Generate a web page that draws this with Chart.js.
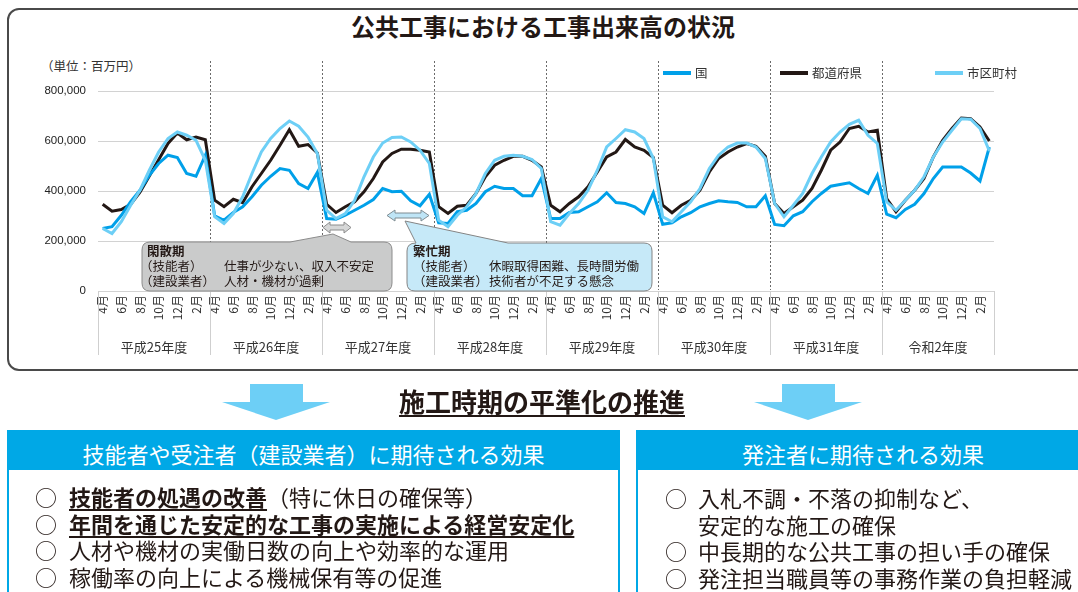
<!DOCTYPE html>
<html lang="ja">
<head>
<meta charset="utf-8" />
<title>公共工事における工事出来高の状況</title>
<script src="https://cdn.jsdelivr.net/npm/chart.js@4.4.1/dist/chart.umd.min.js"></script>
<style>
	body {
		margin: 0;
		width: 1078px;
		height: 592px;
		overflow: hidden;
		position: relative;
		background: #fff;
		color: #231815;
		font-family: "Noto Sans CJK JP", "Noto Sans", sans-serif;
	}
	.abs { position: absolute; }
	/* rounded frame round the chart */
	#frame {
		left: 7px; top: 8px; width: 1100px; height: 363px;
		box-sizing: border-box;
		border: 2px solid #4a4a4a;
		border-radius: 12px;
	}
	#title {
		left: 0; top: 11px; width: 1086px;
		text-align: center;
		font-size: 24px; font-weight: bold; line-height: 30px;
	}
	#unit { left: 41px; top: 56px; font-size: 12.5px; line-height: 20px; color: #333; }
	#chart { left: 0; top: 0; }
	#notes { left: 0; top: 0; }
	#subtitle {
		left: 0; top: 384px; width: 1084px;
		text-align: center;
		font-size: 26px; font-weight: bold; line-height: 34px;
	}
	#subtitle span {
		text-decoration: underline;
		text-decoration-thickness: 2px;
		text-underline-offset: 3px;
	}
	.panel {
		top: 430px; height: 200px;
		box-sizing: border-box;
		border: 2px solid #00a8e6;
	}
	.panel .head {
		background: #00a8e6;
		color: #fff;
		height: 38px;
		line-height: 38px;
		padding-top: 2px;
		box-sizing: border-box;
		text-align: center;
		font-size: 22px;
	}
	#left { left: 7px; width: 613px; }
	#right { left: 636px; width: 454px; }
	.rows { font-size: 22px; line-height: 26.7px; white-space: nowrap; }
	.rows .c { display: inline-block; }
	.rows b { text-decoration: underline; text-decoration-thickness: 2px; text-underline-offset: 3px; }
	#rowsL { left: 35px; top: 483px; }
	#rowsL .c { width: 34px; }
	#rowsR { left: 665px; top: 484px; }
	#rowsR .c { width: 33px; }
</style>
</head>
<body>
<div id="frame" class="abs"></div>
<div id="title" class="abs">公共工事における工事出来高の状況</div>
<div id="unit" class="abs">（単位：百万円）</div>
<canvas id="chart" class="abs" width="1078" height="372"></canvas>

<!--callouts over the chart-->
<svg id="notes" class="abs" width="1078" height="372" font-family="Noto Sans CJK JP" font-size="12.5" fill="#231815">
	<path d="M150,242 L290,242 L333,234 L351,242 L384,242 Q392,242 392,250 L392,283 Q392,291 384,291 L150,291 Q142,291 142,283 L142,250 Q142,242 150,242 Z" fill="#cacbcb" stroke="#8c8c8c" stroke-width="1" />
	<path d="M323,227.5 L330,222 L330,225 L344,225 L344,222 L351,227.5 L344,233 L344,230 L330,230 L330,233 Z" fill="#d6d7d7" stroke="#8c8c8c" stroke-width="1" />
	<text x="147" y="256" font-weight="bold">閑散期</text>
	<text x="140" y="271">（技能者）</text>
	<text x="224" y="271">仕事が少ない、収入不安定</text>
	<text x="140" y="286">（建設業者）</text>
	<text x="224" y="286">人材・機材が過剰</text>

	<path d="M416,243 L405,221 L508,243 L644,243 Q652,243 652,251 L652,283 Q652,291 644,291 L415,291 Q407,291 407,283 L407,251 Q407,243 416,243 Z" fill="#c6e9f8" stroke="#848484" stroke-width="1" />
	<path d="M387,215.5 L395,210 L395,213 L421,213 L421,210 L429,215.5 L421,221 L421,218 L395,218 L395,221 Z" fill="#bfe5f6" stroke="#7f8c92" stroke-width="1" />
	<text x="413" y="256" font-weight="bold">繁忙期</text>
	<text x="413" y="271">（技能者）</text>
	<text x="489" y="271">休暇取得困難、長時間労働</text>
	<text x="413" y="286">（建設業者）</text>
	<text x="489" y="286">技術者が不足する懸念</text>
</svg>

<!--arrows and lower panels-->
<svg class="abs" style="left:0;top:0" width="1078" height="592">
	<polygon points="250,384 303,384 303,402 330,402 276,420 222,402 250,402" fill="#6dcff6" />
	<polygon points="782,384 835,384 835,402 862,402 808,420 754,402 782,402" fill="#6dcff6" />
</svg>
<div id="subtitle" class="abs"><span>施工時期の平準化の推進</span></div>

<div id="left" class="abs panel"><div class="head">技能者や受注者（建設業者）に期待される効果</div></div>
<div id="right" class="abs panel"><div class="head">発注者に期待される効果</div></div>

<div id="rowsL" class="abs rows">
	<div><span class="c">○</span><b>技能者の処遇の改善</b>（特に休日の確保等）</div>
	<div><span class="c">○</span><b>年間を通じた安定的な工事の実施による経営安定化</b></div>
	<div><span class="c">○</span>人材や機材の実働日数の向上や効率的な運用</div>
	<div><span class="c">○</span>稼働率の向上による機械保有等の促進</div>
</div>
<div id="rowsR" class="abs rows">
	<div><span class="c">○</span>入札不調・不落の抑制など、</div>
	<div><span class="c"></span>安定的な施工の確保</div>
	<div><span class="c">○</span>中長期的な公共工事の担い手の確保</div>
	<div><span class="c">○</span>発注担当職員等の事務作業の負担軽減</div>
</div>

<script>
	// fiscal years and months (4月 .. 3月)
	const fiscalYears = ["平成25年度", "平成26年度", "平成27年度", "平成28年度", "平成29年度", "平成30年度", "平成31年度", "令和2年度"];
	const monthNames = ["4月", "5月", "6月", "7月", "8月", "9月", "10月", "11月", "12月", "1月", "2月", "3月"];

	// 工事出来高（百万円）, one row per fiscal year
	const kuni = [
		250000, 257000, 303000, 357000, 403000, 463000, 510000, 543000, 534000, 470000, 459000, 543000,
		301000, 283000, 314000, 337000, 377000, 423000, 459000, 490000, 483000, 430000, 410000, 474000,
		290000, 287000, 303000, 323000, 343000, 366000, 410000, 397000, 399000, 361000, 341000, 387000,
		273000, 270000, 317000, 323000, 350000, 397000, 419000, 410000, 410000, 381000, 381000, 450000,
		290000, 290000, 314000, 317000, 337000, 357000, 393000, 354000, 350000, 337000, 310000, 393000,
		267000, 273000, 297000, 313000, 337000, 350000, 361000, 357000, 354000, 337000, 337000, 381000,
		266000, 261000, 301000, 317000, 357000, 390000, 419000, 426000, 433000, 410000, 390000, 463000,
		307000, 293000, 326000, 347000, 390000, 450000, 496000, 496000, 496000, 472000, 440000, 576000,
	];
	const todofuken = [
		347000, 319000, 326000, 347000, 395000, 460000, 525000, 590000, 632000, 605000, 616000, 605000,
		363000, 337000, 367000, 353000, 417000, 470000, 523000, 583000, 645000, 579000, 586000, 552000,
		347000, 314000, 337000, 357000, 397000, 450000, 516000, 550000, 567000, 567000, 563000, 556000,
		337000, 310000, 339000, 343000, 390000, 457000, 503000, 523000, 539000, 539000, 523000, 496000,
		343000, 317000, 350000, 377000, 417000, 476000, 536000, 556000, 606000, 576000, 563000, 534000,
		343000, 313000, 343000, 363000, 403000, 476000, 530000, 556000, 576000, 590000, 579000, 539000,
		350000, 310000, 337000, 363000, 410000, 483000, 563000, 596000, 650000, 659000, 636000, 643000,
		370000, 317000, 363000, 403000, 450000, 536000, 603000, 650000, 692000, 689000, 656000, 600000,
	];
	const shikuchoson = [
		250000, 230000, 277000, 343000, 403000, 483000, 556000, 610000, 636000, 623000, 603000, 523000,
		297000, 270000, 310000, 377000, 470000, 556000, 610000, 650000, 680000, 659000, 616000, 550000,
		323000, 290000, 310000, 363000, 457000, 536000, 592000, 614000, 616000, 596000, 563000, 510000,
		283000, 257000, 303000, 337000, 390000, 470000, 523000, 539000, 543000, 539000, 526000, 490000,
		277000, 263000, 310000, 350000, 403000, 483000, 576000, 610000, 645000, 636000, 610000, 530000,
		297000, 277000, 317000, 357000, 410000, 490000, 543000, 576000, 592000, 592000, 576000, 530000,
		350000, 297000, 343000, 390000, 470000, 536000, 596000, 636000, 667000, 683000, 623000, 590000,
		357000, 323000, 363000, 403000, 457000, 536000, 596000, 643000, 689000, 687000, 650000, 560000,
	];

	const labels = [];
	fiscalYears.forEach(() => monthNames.forEach((m) => labels.push(m)));

	const jp = '"Noto Sans CJK JP", sans-serif';

	// year separators, dashed boundaries, year names and the legend
	const yearMarks = {
		id: "yearMarks",
		beforeDatasetsDraw(chart) {
			const { ctx, chartArea, scales } = chart;
			const x = scales.x;
			const half = (x.getPixelForValue(1) - x.getPixelForValue(0)) / 2;
			ctx.save();
			ctx.strokeStyle = "#6a6a6a";
			ctx.lineWidth = 1;
			ctx.setLineDash([2, 2]);
			for (let y = 1; y < fiscalYears.length; y++) {
				const bx = Math.round(x.getPixelForValue(y * 12) - half) + 0.5;
				ctx.beginPath();
				ctx.moveTo(bx, chartArea.top - 30);
				ctx.lineTo(bx, chartArea.bottom - 1);
				ctx.stroke();
			}
			ctx.restore();
		},
		afterDraw(chart) {
			const { ctx, chartArea, scales } = chart;
			const x = scales.x;
			const half = (x.getPixelForValue(1) - x.getPixelForValue(0)) / 2;
			ctx.save();
			ctx.strokeStyle = "#cfcfcf";
			ctx.lineWidth = 1;
			const edges = [];
			for (let y = 0; y <= fiscalYears.length; y++) {
				const bx = y < fiscalYears.length
					? x.getPixelForValue(y * 12) - half
					: x.getPixelForValue(y * 12 - 1) + half;
				edges.push(bx);
				ctx.beginPath();
				ctx.moveTo(Math.round(bx) + 0.5, chartArea.bottom);
				ctx.lineTo(Math.round(bx) + 0.5, chartArea.bottom + 64);
				ctx.stroke();
			}
			ctx.fillStyle = "#333";
			ctx.font = "13px " + jp;
			ctx.textAlign = "center";
			ctx.textBaseline = "middle";
			fiscalYears.forEach((name, i) => {
				ctx.fillText(name, (edges[i] + edges[i + 1]) / 2, chartArea.bottom + 56);
			});

			// legend
			const legendX = [663, 780, 935];
			ctx.textAlign = "left";
			ctx.font = "12.5px " + jp;
			chart.data.datasets.forEach((ds, i) => {
				ctx.strokeStyle = ds.borderColor;
				ctx.lineWidth = 4;
				ctx.beginPath();
				ctx.moveTo(legendX[i], 73);
				ctx.lineTo(legendX[i] + 28, 73);
				ctx.stroke();
				ctx.fillStyle = "#333";
				ctx.fillText(ds.label, legendX[i] + 32, 73);
			});
			ctx.restore();
		},
	};

	new Chart(document.getElementById("chart"), {
		type: "line",
		data: {
			labels: labels,
			datasets: [
				{ label: "国", data: kuni, borderColor: "#00a0e9", order: 2 },
				{ label: "都道府県", data: todofuken, borderColor: "#231815", order: 3 },
				{ label: "市区町村", data: shikuchoson, borderColor: "#6dcff6", order: 1 },
			],
		},
		options: {
			responsive: false,
			animation: false,
			layout: { padding: { left: 38, right: 84, top: 91, bottom: 0 } },
			elements: {
				line: { borderWidth: 3, tension: 0, fill: false },
				point: { radius: 0 },
			},
			plugins: {
				legend: { display: false },
				tooltip: { enabled: false },
			},
			scales: {
				x: {
					offset: true,
					grid: { display: false, drawTicks: false },
					border: { display: false },
					ticks: {
						autoSkip: false,
						minRotation: 90,
						maxRotation: 90,
						padding: 4,
						color: "#333",
						font: { size: 12, family: jp },
						callback: function (value, index) {
							return index % 2 === 0 ? this.getLabelForValue(value) : "";
						},
					},
					afterFit: (s) => { s.height = 81; },
				},
				y: {
					min: 0,
					max: 800000,
					grid: { color: "#d2d2d2", lineWidth: 1, drawTicks: false },
					border: { display: false },
					ticks: {
						stepSize: 200000,
						padding: 12,
						color: "#222",
						font: { size: 11.5, family: '"Liberation Sans", Arial, sans-serif' },
						callback: (v) => v.toLocaleString("en-US"),
					},
					afterFit: (s) => { s.width = 60; },
				},
			},
		},
		plugins: [yearMarks],
	});
</script>
</body>
</html>
